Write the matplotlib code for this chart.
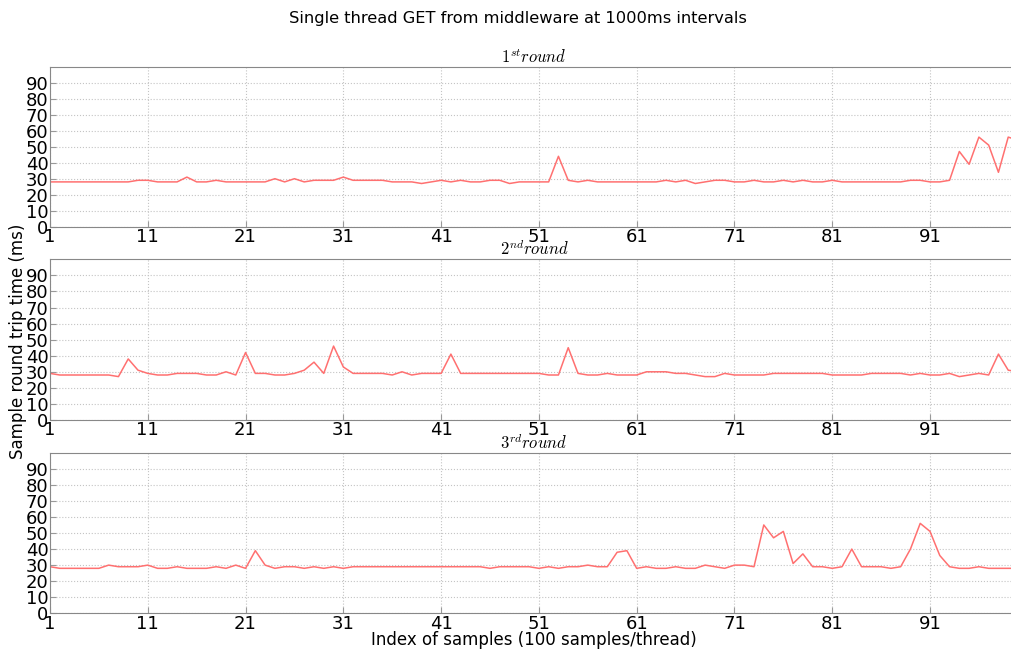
import matplotlib
matplotlib.use("Agg")
import matplotlib.pyplot as plt
import numpy as np

# Round trip times (ms) for samples 1..100
round1 = [28, 28, 28, 28, 28, 28, 28, 28, 28, 29,
          29, 28, 28, 28, 31, 28, 28, 29, 28, 28,
          28, 28, 28, 30, 28, 30, 28, 29, 29, 29,
          31, 29, 29, 29, 29, 28, 28, 28, 27, 28,
          29, 28, 29, 28, 28, 29, 29, 27, 28, 28,
          28, 28, 44, 29, 28, 29, 28, 28, 28, 28,
          28, 28, 28, 29, 28, 29, 27, 28, 29, 29,
          28, 28, 29, 28, 28, 29, 28, 29, 28, 28,
          29, 28, 28, 28, 28, 28, 28, 28, 29, 29,
          28, 28, 29, 47, 39, 56, 51, 34, 56, 54]
round2 = [29, 28, 28, 28, 28, 28, 28, 27, 38, 31,
          29, 28, 28, 29, 29, 29, 28, 28, 30, 28,
          42, 29, 29, 28, 28, 29, 31, 36, 29, 46,
          33, 29, 29, 29, 29, 28, 30, 28, 29, 29,
          29, 41, 29, 29, 29, 29, 29, 29, 29, 29,
          29, 28, 28, 45, 29, 28, 28, 29, 28, 28,
          28, 30, 30, 30, 29, 29, 28, 27, 27, 29,
          28, 28, 28, 28, 29, 29, 29, 29, 29, 29,
          28, 28, 28, 28, 29, 29, 29, 29, 28, 29,
          28, 28, 29, 27, 28, 29, 28, 41, 31, 30]
round3 = [29, 28, 28, 28, 28, 28, 30, 29, 29, 29,
          30, 28, 28, 29, 28, 28, 28, 29, 28, 30,
          28, 39, 30, 28, 29, 29, 28, 29, 28, 29,
          28, 29, 29, 29, 29, 29, 29, 29, 29, 29,
          29, 29, 29, 29, 29, 28, 29, 29, 29, 29,
          28, 29, 28, 29, 29, 30, 29, 29, 38, 39,
          28, 29, 28, 28, 29, 28, 28, 30, 29, 28,
          30, 30, 29, 55, 47, 51, 31, 37, 29, 29,
          28, 29, 40, 29, 29, 29, 28, 29, 40, 56,
          51, 36, 29, 28, 28, 29, 28, 28, 28, 28]

rounds = [round1, round2, round3]
titles = [r"$1^{st} round$", r"$2^{nd} round$", r"$3^{rd} round$"]
samples = np.arange(1, 101)

plt.rcParams["mathtext.fontset"] = "cm"
plt.rcParams["font.family"] = "DejaVu Sans"

W, H = 1011, 649
fig = plt.figure(figsize=(W / 100, H / 100), dpi=100)

# axes boxes in pixels (top, bottom); right edge runs past the image like the original
left_px, right_px = 50, 1018
boxes = [(66.7, 226.7), (259.3, 420.0), (452.7, 613.3)]

for data, title, (top, bot) in zip(rounds, titles, boxes):
    ax = fig.add_axes([left_px / W, 1 - bot / H, (right_px - left_px) / W, (bot - top) / H])
    ax.plot(samples, data, color="#ff7070", lw=1.1)
    ax.set_xlim(1, 100)
    ax.set_ylim(0, 100)
    ax.set_xticks(np.arange(1, 100, 10))
    ax.set_yticks(np.arange(0, 100, 10))
    ax.tick_params(labelsize=13, direction="in", length=4, color="#999999", pad=1)
    ax.grid(True, color="#c4c4c4", ls=":", lw=0.8)
    for s in ax.spines.values():
        s.set_color("#888888")
    ax.set_title(title, fontsize=12, pad=3)

fig.text(518 / W, 1 - 18 / H, "Single thread GET from middleware at 1000ms intervals",
         ha="center", va="center", fontsize=11.7)
fig.text(18 / W, 1 - 341 / H, "Sample round trip time (ms)", rotation=90,
         ha="center", va="center", fontsize=12)
fig.text(534 / W, 1 - 640 / H, "Index of samples (100 samples/thread)",
         ha="center", va="center", fontsize=12)

fig.savefig("out.png", dpi=100)
